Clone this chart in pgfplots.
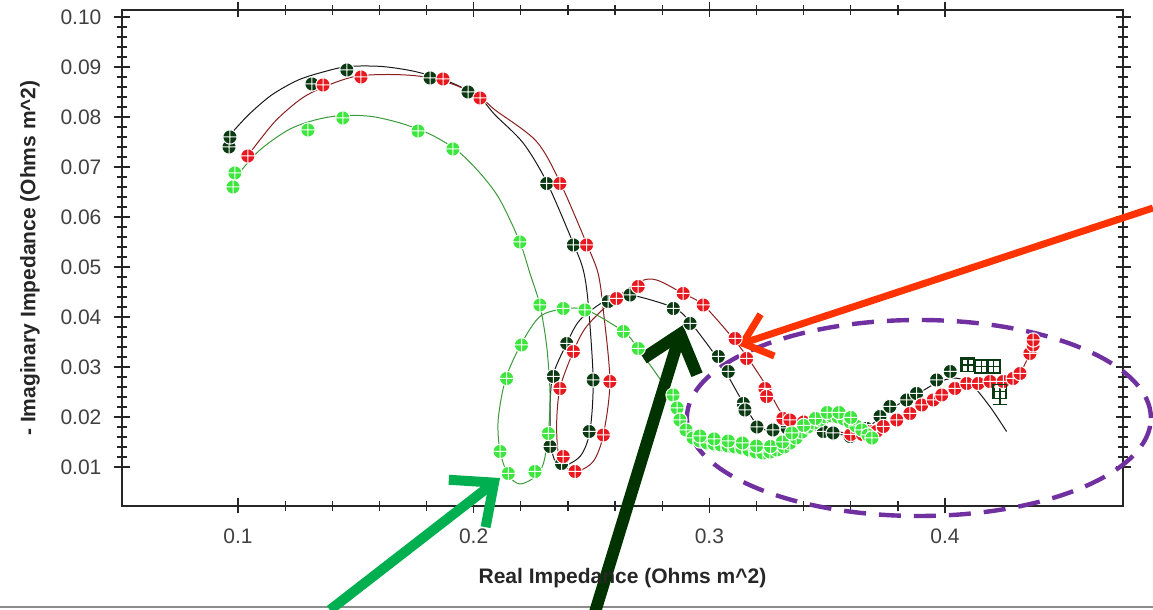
\documentclass[border=0pt]{standalone}
\usepackage{pgfplots}
\pgfplotsset{compat=1.18}
\usepackage{fontspec}
\setmainfont{Liberation Sans}
\usetikzlibrary{arrows.meta}
\definecolor{dkg}{HTML}{0B3A12}
\definecolor{rd}{HTML}{E8181E}
\definecolor{lg}{HTML}{3CE63C}
\definecolor{dkgline}{HTML}{1A1A1A}
\definecolor{rdline}{HTML}{8C2020}
\definecolor{lgline}{HTML}{3C9A3C}
\definecolor{arrG}{HTML}{00B050}
\definecolor{arrD}{HTML}{003300}
\definecolor{arrR}{HTML}{FF3300}
\definecolor{purp}{HTML}{7030A0}
\begin{document}
\begin{tikzpicture}
\path[use as bounding box] (-61pt,-52pt) rectangle (515.5pt,253pt);
\clip (-61pt,-52pt) rectangle (515.5pt,253pt);
\fill[white] (-61pt,-52pt) rectangle (515.5pt,253pt);
\draw[black!45, line width=1pt] (-61pt,-50.5pt) -- (515.5pt,-50.5pt);
\begin{axis}[
  at={(0,0)}, anchor=south west,
  scale only axis, width=500.5pt, height=248pt,
  xmin=0.0508, xmax=0.4755, ymin=0.0022, ymax=0.1014,
  xtick={0.1,0.2,0.3,0.4},
  xticklabels={0.1,0.2,0.3,0.4},
  ytick={0.01,0.02,0.03,0.04,0.05,0.06,0.07,0.08,0.09,0.10},
  yticklabels={0.01,0.02,0.03,0.04,0.05,0.06,0.07,0.08,0.09,0.10},
  minor tick num=4,
  tick align=center,
  major tick length=7.5pt, minor tick length=5pt,
  every tick/.style={black!85, line width=0.6pt},
  tick label style={font=\fontsize{10.5}{12}\selectfont, text=black!75},
  xticklabel style={yshift=-4pt},
  yticklabel style={xshift=-3pt},
  xlabel={Real Impedance (Ohms m\textasciicircum 2)},
  ylabel={- Imaginary Impedance (Ohms m\textasciicircum 2)},
  xlabel style={at={(axis description cs:0.5,-0.145)}, anchor=center},
  ylabel style={at={(axis description cs:-0.092,0.5)}, anchor=center},
  label style={font=\fontsize{10.5}{12}\selectfont\bfseries, text=black!85},
  axis line style={line width=0.9pt, black!85},
  clip=false,
]
% ---------- fit lines ----------
\addplot[smooth, dkgline, line width=0.5pt, no marks] coordinates {
(0.0966,0.0764) (0.1044,0.0804) (0.1143,0.0844) (0.1256,0.0874) (0.1369,0.0891)
(0.1468,0.0901) (0.1610,0.0901) (0.1751,0.0891) (0.1893,0.0871) (0.2020,0.0841)
(0.2091,0.0804) (0.2210,0.0748) (0.2310,0.0670) (0.2423,0.0547) (0.2465,0.0494)
(0.2486,0.0427) (0.2507,0.0274) (0.2493,0.0171) (0.2451,0.0121) (0.2366,0.0101)
(0.2331,0.0134) (0.2324,0.0207) (0.2335,0.0281) (0.2395,0.0347) (0.2451,0.0394)
(0.2564,0.0434) (0.2663,0.0444) (0.2847,0.0419) (0.2918,0.0390) (0.3029,0.0321)
(0.3072,0.0288) (0.3144,0.0228) (0.3208,0.0181) (0.3272,0.0172) (0.3328,0.0180)
(0.3483,0.0171) (0.3597,0.0163) (0.3667,0.0177) (0.3766,0.0215) (0.3879,0.0245)
(0.3964,0.0268) (0.4040,0.0278) (0.4110,0.0266) (0.4190,0.0221) (0.4261,0.0171)};
\addplot[smooth, rdline, line width=0.5pt, no marks] coordinates {
(0.1044,0.0724) (0.1157,0.0791) (0.1270,0.0837) (0.1369,0.0861) (0.1496,0.0881)
(0.1638,0.0885) (0.1779,0.0881) (0.1921,0.0864) (0.2034,0.0837) (0.2091,0.0814)
(0.2265,0.0752) (0.2366,0.0670) (0.2479,0.0547) (0.2528,0.0487) (0.2550,0.0414)
(0.2578,0.0271) (0.2550,0.0164) (0.2507,0.0111) (0.2430,0.0091) (0.2366,0.0114)
(0.2352,0.0181) (0.2366,0.0257) (0.2423,0.0331) (0.2479,0.0381) (0.2592,0.0434)
(0.2706,0.0471) (0.2776,0.0474) (0.2889,0.0447) (0.2974,0.0424) (0.3101,0.0357)
(0.3165,0.0317) (0.3243,0.0261) (0.3312,0.0205) (0.3400,0.0188) (0.3600,0.0166)
(0.3681,0.0171) (0.3795,0.0194) (0.3901,0.0224) (0.3986,0.0244) (0.4092,0.0267)
(0.4191,0.0271) (0.4289,0.0277) (0.4318,0.0287) (0.4360,0.0327) (0.4374,0.0344)};
\addplot[smooth, lgline, line width=0.5pt, no marks] coordinates {
(0.0983,0.0668) (0.0987,0.0677) (0.1086,0.0731) (0.1213,0.0774) (0.1327,0.0794)
(0.1440,0.0803) (0.1567,0.0801) (0.1695,0.0787) (0.1822,0.0764) (0.1935,0.0731)
(0.2034,0.0684) (0.2112,0.0634) (0.2196,0.0550) (0.2239,0.0487) (0.2281,0.0424)
(0.2310,0.0341) (0.2324,0.0247) (0.2317,0.0167) (0.2296,0.0107) (0.2260,0.0080)
(0.2196,0.0066) (0.2147,0.0084) (0.2112,0.0131) (0.2104,0.0194) (0.2136,0.0277)
(0.2203,0.0347) (0.2281,0.0401) (0.2380,0.0416) (0.2479,0.0414) (0.2635,0.0371)
(0.2698,0.0337) (0.2840,0.0241) (0.2889,0.0187) (0.2930,0.0158) (0.3028,0.0144)
(0.3130,0.0136) (0.3227,0.0128) (0.3317,0.0140) (0.3393,0.0170) (0.3495,0.0200)
(0.3546,0.0200) (0.3622,0.0182) (0.3690,0.0158)};
% ---------- data markers ----------
\addplot[only marks, mark=oplus*, mark size=3.6pt, mark options={fill=dkg, draw=white, line width=0.5pt}] coordinates {
(0.0962,0.0740) (0.0966,0.0760) (0.1314,0.0866) (0.1462,0.0894) (0.1815,0.0878)
(0.1976,0.0850) (0.2310,0.0667) (0.2423,0.0544) (0.2507,0.0274) (0.2490,0.0171)
(0.2373,0.0107) (0.2324,0.0141) (0.2338,0.0281) (0.2395,0.0347) (0.2571,0.0431)
(0.2663,0.0444) (0.2847,0.0417) (0.2918,0.0387) (0.3038,0.0321) (0.3080,0.0291)
(0.3144,0.0227) (0.3151,0.0214) (0.3202,0.0180) (0.3270,0.0174) (0.3330,0.0178)
(0.3483,0.0171) (0.3525,0.0168) (0.3597,0.0161) (0.3667,0.0177) (0.3724,0.0201)
(0.3766,0.0221) (0.3837,0.0234) (0.3879,0.0247) (0.3964,0.0274) (0.4022,0.0291)};
\addplot[only marks, mark=oplus*, mark size=3.6pt, mark options={fill=rd, draw=white, line width=0.5pt}] coordinates {
(0.1042,0.0722) (0.1361,0.0864) (0.1522,0.0880) (0.1870,0.0876) (0.2027,0.0838)
(0.2366,0.0667) (0.2479,0.0544) (0.2578,0.0271) (0.2550,0.0164) (0.2430,0.0091)
(0.2380,0.0121) (0.2366,0.0257) (0.2423,0.0331) (0.2606,0.0437) (0.2698,0.0461)
(0.2889,0.0447) (0.2974,0.0424) (0.3109,0.0357) (0.3158,0.0317) (0.3236,0.0257)
(0.3243,0.0241) (0.3312,0.0197) (0.3342,0.0194) (0.3400,0.0190) (0.3600,0.0165)
(0.3650,0.0165) (0.3681,0.0171) (0.3709,0.0171) (0.3738,0.0181) (0.3795,0.0194)
(0.3851,0.0207) (0.3901,0.0224) (0.3950,0.0234) (0.3986,0.0244) (0.4042,0.0257)
(0.4092,0.0267) (0.4141,0.0267) (0.4191,0.0271) (0.4247,0.0271) (0.4289,0.0277)
(0.4318,0.0287) (0.4360,0.0327) (0.4374,0.0344) (0.4374,0.0354)};
\addplot[only marks, mark=oplus*, mark size=3.6pt, mark options={fill=lg, draw=white, line width=0.5pt}] coordinates {
(0.0987,0.0688) (0.0979,0.0660) (0.1297,0.0774) (0.1445,0.0798) (0.1764,0.0772)
(0.1912,0.0736) (0.2196,0.0550) (0.2281,0.0424) (0.2317,0.0167) (0.2260,0.0091)
(0.2147,0.0087) (0.2112,0.0131) (0.2140,0.0277) (0.2203,0.0344) (0.2380,0.0417)
(0.2472,0.0414) (0.2635,0.0371) (0.2698,0.0337) (0.2846,0.0244) (0.2863,0.0218)
(0.2875,0.0194) (0.2901,0.0174) (0.2931,0.0158) (0.2960,0.0152) (0.2990,0.0148)
(0.3020,0.0146) (0.3049,0.0144) (0.3079,0.0142) (0.3109,0.0140) (0.3138,0.0138)
(0.3168,0.0134) (0.3198,0.0130) (0.3227,0.0128) (0.3257,0.0130) (0.3287,0.0134)
(0.3317,0.0140) (0.3342,0.0148) (0.3368,0.0158) (0.3393,0.0170) (0.3418,0.0180)
(0.3444,0.0188) (0.3469,0.0194) (0.3495,0.0200) (0.3520,0.0202) (0.3546,0.0200)
(0.3571,0.0196) (0.3597,0.0190) (0.3622,0.0182) (0.3647,0.0174) (0.3673,0.0164)
(0.3690,0.0158)
(0.2960,0.0162) (0.3020,0.0156) (0.3080,0.0152) (0.3140,0.0148) (0.3200,0.0142)
(0.3260,0.0141) (0.3310,0.0150) (0.3350,0.0168) (0.3400,0.0183) (0.3450,0.0197)
(0.3500,0.0209) (0.3550,0.0209) (0.3600,0.0199)};
\addplot[only marks, dkg, mark=square, mark size=3.4pt, mark options={line width=0.7pt},
  error bars/.cd, x dir=both, x explicit, y dir=both, y explicit, error bar style={dkg, line width=0.7pt}] coordinates {
(0.4097,0.0304) +- (0.0025,0.0012)
(0.4155,0.0301) +- (0.0025,0.0012)
(0.4205,0.0301) +- (0.0025,0.0012)
(0.4233,0.0251) +- (0.0025,0.0026)};
% ---------- annotations ----------
\draw[purp, line width=2.2pt, dash pattern=on 11pt off 6.5pt] (axis cs:0.3889,0.0198) ellipse [x radius=116pt, y radius=49pt];
\draw[arrR, line width=3.5pt, -{Straight Barb[length=13pt, width=22pt]}] (axis cs:0.4882,0.0618) -- (axis cs:0.3120,0.0344);
\draw[arrG, line width=5pt, -{Straight Barb[length=17pt, width=30pt]}] (axis cs:0.1390,-0.0186) -- (axis cs:0.2112,0.0078);
\draw[arrD, line width=6pt, -{Straight Barb[length=17pt, width=28pt]}] (axis cs:0.2515,-0.0190) -- (axis cs:0.2888,0.0384);
\end{axis}
\end{tikzpicture}
\end{document}
